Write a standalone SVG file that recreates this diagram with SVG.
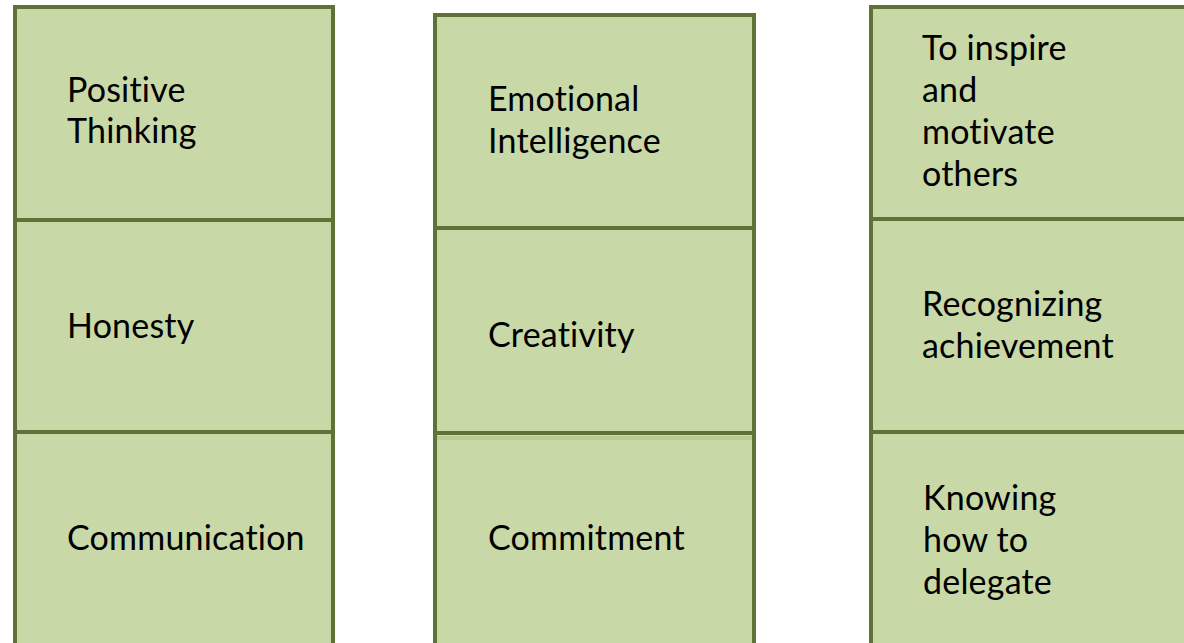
<svg xmlns="http://www.w3.org/2000/svg" width="1184" height="643" viewBox="0 0 1184 643">
<style>
.box{fill:#c9d8a7;stroke:#5f7337;stroke-width:4}
.t{font-family:Lato,"Open Sans","Liberation Sans",sans-serif;font-size:34px;letter-spacing:0.2px;font-variant-ligatures:none;fill:#000}
</style>
<rect width="1184" height="643" fill="#fff"/>
<g id="col1">
<g id="positive-thinking"><rect class="box" x="15" y="7" width="318" height="213"/><text class="t" x="67" y="102">Positive</text><text class="t" x="67" y="143">Thinking</text></g>
<g id="honesty"><rect class="box" x="15" y="220" width="318" height="212"/><text class="t" x="67" y="338">Honesty</text></g>
<g id="communication"><rect class="box" x="15" y="432" width="318" height="230"/><text class="t" x="67" y="550">Communication</text></g>
</g>
<g id="col2">
<g id="emotional-intelligence"><rect class="box" x="435" y="15" width="319" height="213"/><text class="t" x="488" y="111">Emotional</text><text class="t" x="488" y="153">Intelligence</text></g>
<g id="creativity"><rect class="box" x="435" y="228" width="319" height="205"/><text class="t" x="488" y="347">Creativity</text></g>
<g id="commitment"><rect class="box" x="435" y="433" width="319" height="230"/><rect x="437" y="436" width="315" height="4" fill="#b9cb92"/><text class="t" x="488" y="550">Commitment</text></g>
</g>
<g id="col3">
<g id="inspire"><rect class="box" x="871" y="7" width="330" height="212"/><text class="t" x="922" y="60">To inspire</text><text class="t" x="922" y="102">and</text><text class="t" x="922" y="144">motivate</text><text class="t" x="922" y="186">others</text></g>
<g id="recognizing"><rect class="box" x="871" y="219" width="330" height="213"/><text class="t" x="922" y="316">Recognizing</text><text class="t" x="922" y="358">achievement</text></g>
<g id="delegate"><rect class="box" x="871" y="432" width="330" height="230"/><text class="t" x="923" y="510">Knowing</text><text class="t" x="923" y="552">how to</text><text class="t" x="923" y="594">delegate</text></g>
</g>
<g id="connectors"/>
</svg>
